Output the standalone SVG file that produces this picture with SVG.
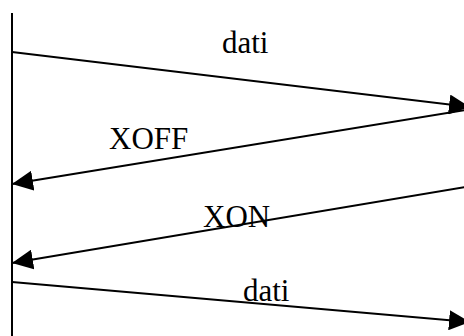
<svg xmlns="http://www.w3.org/2000/svg" width="464" height="336" viewBox="0 0 464 336">
  <style>
    .line { stroke: #000; stroke-width: 2; fill: none; }
    .msg { stroke: #000; stroke-width: 2; fill: none; marker-end: url(#head); }
    .lbl { font-family: "Liberation Serif", "Times New Roman", serif; font-size: 31px; fill: #000; }
  </style>
  <defs>
    <marker id="head" markerUnits="userSpaceOnUse" markerWidth="22" markerHeight="20" refX="21" refY="10" orient="auto">
      <path d="M0,0 L21,10 L0,20 z" fill="#000"/>
    </marker>
  </defs>
  <rect width="464" height="336" fill="#fff"/>

  <!-- sender timeline -->
  <g id="timeline">
    <line class="line" x1="12" y1="13" x2="12" y2="336"/>
  </g>

  <!-- messages -->
  <g id="connectors">
    <line class="msg" x1="12" y1="52" x2="470" y2="107"/>
    <line class="msg" x1="466" y1="110" x2="12" y2="184"/>
    <line class="msg" x1="466" y1="187" x2="12" y2="263"/>
    <line class="msg" x1="12" y1="282" x2="470" y2="322"/>
  </g>

  <g id="labels">
    <text class="lbl" x="222" y="53">dati</text>
    <text class="lbl" x="109" y="149">XOFF</text>
    <text class="lbl" x="203" y="227">XON</text>
    <text class="lbl" x="243" y="301">dati</text>
  </g>
</svg>
